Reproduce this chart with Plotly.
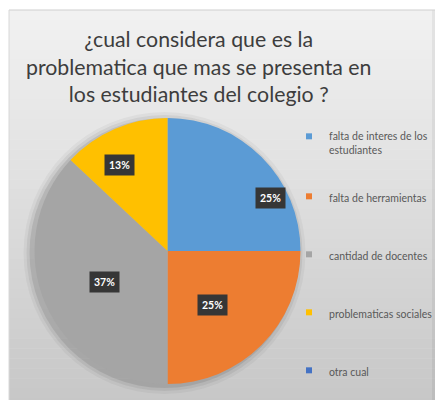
import math
import plotly.graph_objects as go

# ---- data ----
categories = ["falta de interes de los estudiantes", "falta de herramientas",
              "cantidad de docentes", "problematicas sociales", "otra cual"]
legend_labels = ["falta de interes de los<br>estudiantes", "falta de herramientas",
                 "cantidad de docentes", "problematicas sociales", "otra cual"]
values = [25, 25, 37, 13, 0]
colors = ["#5B9BD5", "#ED7D31", "#A5A5A5", "#FFC000", "#4472C4"]
title_text = "¿cual considera que es la<br>problematica que mas se presenta en<br>los estudiantes del colegio ?"

W, H = 443, 400
OFF = 8  # page body margin
# pie geometry (figure pixels)
cx, cy, R = 167.5 - OFF, 251 - OFF, 133
# label placement style: (radius fraction, angle offset deg)
label_style = [(0.87, 18), (0.53, 5), (0.53, -3), (0.74, -6)]
# legend marker centres (figure pixels)
legend_x = 289 - OFF
legend_y = [133 - OFF, 193 - OFF, 251 - OFF, 309 - OFF, 367 - OFF]

fig = go.Figure()

# background panel: banded vertical gradient (light top -> darker bottom)
fx0, fy0, fx1, fy1 = 9 - OFF, 10 - OFF, W, H
grad_stops = [(0.0, 242), (0.45, 223), (1.0, 198)]


def grey_at(t):
    for (t0, g0), (t1, g1) in zip(grad_stops[:-1], grad_stops[1:]):
        if t <= t1:
            return g0 + (g1 - g0) * (t - t0) / (t1 - t0)
    return grad_stops[-1][1]


shapes = []
nb = 40
for b in range(nb):
    y0 = fy0 + (fy1 - fy0) * b / nb
    y1 = fy0 + (fy1 - fy0) * (b + 1) / nb + 0.5
    g = int(round(grey_at((b + 0.5) / nb)))
    shapes.append(dict(type="rect", xref="x", yref="y", x0=fx0, x1=fx1, y0=y0, y1=y1,
                       fillcolor=f"rgb({g},{g},{g})", line=dict(width=0), layer="below"))
# right edge darker strip and top border
shapes.append(dict(type="rect", xref="x", yref="y", x0=432 - OFF, x1=fx1, y0=fy0, y1=fy1,
                   fillcolor="rgba(0,0,0,0.05)", line=dict(width=0), layer="below"))
shapes.append(dict(type="line", xref="x", yref="y", x0=fx0, x1=fx1, y0=fy0, y1=fy0,
                   line=dict(color="#cfcfcf", width=1), layer="below"))
shapes.append(dict(type="line", xref="x", yref="y", x0=fx0, x1=fx0, y0=fy0, y1=fy1,
                   line=dict(color="#d8d8d8", width=1), layer="below"))

# legend entries (dummy), one legend each for exact spacing
legend_layouts = {}
for i, (lab, col) in enumerate(zip(legend_labels, colors)):
    lname = "legend" if i == 0 else f"legend{i + 1}"
    fig.add_trace(go.Scatter(x=[None], y=[None], mode="markers",
                             marker=dict(symbol="square", size=6, color=col),
                             name=lab, showlegend=True, legend=lname))
    legend_layouts[lname] = dict(
        x=legend_x / W, y=(H - legend_y[i] + 10) / H, xanchor="left", yanchor="top",
        font=dict(family="Lato", size=10.5, color="#595959"),
        itemwidth=30, bgcolor="rgba(0,0,0,0)", valign="top")

# soft shadow behind pie
for grow, alpha in [(8, 0.04), (5, 0.06), (2, 0.09)]:
    r2 = R + grow
    sx, sy = cx - 3, cy + 2
    fig.add_trace(go.Pie(
        values=[1], labels=["s"], marker=dict(colors=[f"rgba(0,0,0,{alpha})"], line=dict(width=0)),
        textinfo="none", showlegend=False, hoverinfo="skip", sort=False,
        domain=dict(x=[(sx - r2) / W, (sx + r2) / W],
                    y=[(H - sy - r2) / H, (H - sy + r2) / H])))

fig.add_trace(go.Pie(
    labels=categories, values=values, sort=False, direction="clockwise",
    rotation=0, marker=dict(colors=colors, line=dict(width=0)),
    textinfo="none", showlegend=False, hoverinfo="label+percent",
    domain=dict(x=[(cx - R) / W, (cx + R) / W],
                y=[(H - cy - R) / H, (H - cy + R) / H])))

# data labels
total = sum(values)
start = 0.0
annotations = []
k = 0
for v in values:
    ang = v / total * 360
    if v > 0:
        frac, off = label_style[k]
        mid = math.radians(start + ang / 2 + off)
        x = cx + R * frac * math.sin(mid)
        y = cy - R * frac * math.cos(mid)
        annotations.append(dict(x=x, y=y, xref="x", yref="y", showarrow=False,
                                text=f"<b>{round(v / total * 100)}%</b>",
                                font=dict(family="Lato", size=10.5, color="white"),
                                bgcolor="#363636", borderpad=4))
    k += 1
    start += ang

annotations.append(dict(x=199 - OFF, y=66 - OFF, xref="x", yref="y", showarrow=False,
                        text=title_text, align="center",
                        font=dict(family="Lato", size=21.3, color="#3d3d3d")))

fig.update_layout(
    width=W, height=H, margin=dict(l=0, r=0, t=0, b=0, pad=0),
    paper_bgcolor="white", plot_bgcolor="rgba(0,0,0,0)",
    xaxis=dict(range=[0, W], visible=False, fixedrange=True, domain=[0, 1]),
    yaxis=dict(range=[H, 0], visible=False, fixedrange=True, domain=[0, 1]),
    annotations=annotations,
    shapes=shapes,
    showlegend=True,
    **legend_layouts,
)

fig.write_html("out.html")
